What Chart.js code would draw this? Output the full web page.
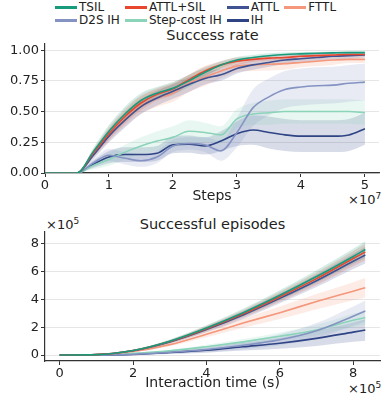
<!DOCTYPE html>
<html>
<head>
<meta charset="utf-8">
<script src="https://cdn.jsdelivr.net/npm/chart.js@4.4.1/dist/chart.umd.min.js"></script>
<style>
  html, body { margin: 0; padding: 0; background: #fff; }
  body { width: 381px; height: 395px; position: relative; overflow: hidden;
         font-family: "DejaVu Sans", sans-serif; color: #222; }
  canvas { position: absolute; left: 0; }
  #top-chart { top: 0; }
  #bottom-chart { top: 208px; }
  .legend { position: absolute; left: 55px; top: 1px; display: grid;
            grid-template-columns: auto auto auto auto; column-gap: 5px;
            font-size: 12px; line-height: 13px; }
  .item { display: flex; align-items: center; white-space: nowrap; }
  .sw { width: 22px; height: 3px; margin-right: 2px; }
  .title { position: absolute; left: 45px; width: 335px; text-align: center;
           font-size: 14.5px; line-height: 17px; }
  .off { position: absolute; font-size: 13px; line-height: 15px; white-space: nowrap; }
  .off sup { font-size: 9px; vertical-align: 5px; line-height: 0; }
</style>
</head>
<body>
<div class="legend" id="legend"></div>
<div class="title" style="top:27px">Success rate</div>
<div class="title" style="top:216px">Successful episodes</div>
<div class="off" style="left:348px; top:192px">×10<sup>7</sup></div>
<div class="off" style="left:46px; top:217px">×10<sup>5</sup></div>
<div class="off" style="left:348px; top:381px">×10<sup>5</sup></div>
<canvas id="top-chart" width="381" height="208"></canvas>
<canvas id="bottom-chart" width="381" height="187"></canvas>

<script>
// ── series ──
const names = ['TSIL', 'ATTL+SIL', 'ATTL', 'FTTL', 'D2S IH', 'Step-cost IH', 'IH'];
const colors = ['#189a7c', '#e8472e', '#3f5291', '#f4977b', '#8593c2', '#8bd3b9', '#2e4485'];

// ── success rate (x in 1e7 steps) ──
const stepsX = [0, 0.5, 0.75, 1, 1.25, 1.5, 1.75, 2, 2.25, 2.5, 2.75, 3, 3.25, 3.5, 3.75, 4, 4.25, 4.5, 4.75, 5];
const tsilRate     = [0, 0, 0.17, 0.34, 0.48, 0.59, 0.65, 0.69, 0.75, 0.82, 0.88, 0.92, 0.94, 0.955, 0.965, 0.97, 0.975, 0.978, 0.98, 0.98];
const attlSilRate  = [0, 0, 0.16, 0.32, 0.46, 0.57, 0.64, 0.685, 0.76, 0.83, 0.88, 0.91, 0.925, 0.935, 0.94, 0.95, 0.955, 0.96, 0.965, 0.965];
const attlRate     = [0, 0, 0.14, 0.30, 0.43, 0.54, 0.61, 0.665, 0.72, 0.77, 0.80, 0.85, 0.88, 0.90, 0.92, 0.93, 0.94, 0.95, 0.955, 0.96];
const fttlRate     = [0, 0, 0.15, 0.31, 0.44, 0.55, 0.61, 0.65, 0.73, 0.78, 0.83, 0.87, 0.88, 0.885, 0.89, 0.90, 0.91, 0.92, 0.925, 0.925];
const d2sRate      = [0, 0, 0.08, 0.145, 0.12, 0.10, 0.13, 0.22, 0.24, 0.23, 0.18, 0.33, 0.53, 0.62, 0.68, 0.70, 0.71, 0.715, 0.73, 0.74];
const stepCostRate = [0, 0, 0.06, 0.11, 0.17, 0.22, 0.26, 0.29, 0.34, 0.33, 0.31, 0.44, 0.48, 0.49, 0.50, 0.50, 0.50, 0.50, 0.50, 0.49];
const ihRate       = [0, 0, 0.07, 0.13, 0.15, 0.15, 0.16, 0.23, 0.235, 0.22, 0.26, 0.32, 0.35, 0.33, 0.31, 0.30, 0.30, 0.30, 0.31, 0.36];

const tsilRateSd     = [0, 0, 0.03, 0.05, 0.06, 0.06, 0.05, 0.05, 0.05, 0.04, 0.03, 0.025, 0.02, 0.02, 0.015, 0.015, 0.01, 0.01, 0.01, 0.01];
const attlSilRateSd  = [0, 0, 0.03, 0.05, 0.06, 0.06, 0.05, 0.05, 0.04, 0.04, 0.03, 0.03, 0.02, 0.02, 0.02, 0.015, 0.015, 0.015, 0.01, 0.01];
const attlRateSd     = [0, 0, 0.03, 0.05, 0.06, 0.06, 0.06, 0.06, 0.06, 0.05, 0.05, 0.04, 0.04, 0.035, 0.03, 0.03, 0.03, 0.025, 0.025, 0.02];
const fttlRateSd     = [0, 0, 0.03, 0.05, 0.06, 0.07, 0.07, 0.07, 0.07, 0.07, 0.06, 0.05, 0.05, 0.05, 0.05, 0.04, 0.04, 0.04, 0.03, 0.03];
const d2sRateSd      = [0, 0, 0.03, 0.05, 0.05, 0.05, 0.05, 0.05, 0.05, 0.06, 0.08, 0.12, 0.15, 0.15, 0.15, 0.15, 0.15, 0.15, 0.15, 0.15];
const stepCostRateSd = [0, 0, 0.03, 0.05, 0.06, 0.07, 0.08, 0.09, 0.09, 0.08, 0.07, 0.08, 0.09, 0.10, 0.10, 0.10, 0.10, 0.10, 0.10, 0.10];
const ihRateSd       = [0, 0, 0.03, 0.05, 0.06, 0.06, 0.06, 0.07, 0.07, 0.07, 0.08, 0.10, 0.12, 0.13, 0.13, 0.13, 0.13, 0.13, 0.13, 0.13];

// ── successful episodes (x and y in 1e5) ──
const timeX = [0, 1, 2, 3, 4, 5, 6, 7, 8, 8.33];
const tsilEp     = [0, 0.03, 0.33, 1.0, 1.95, 3.05, 4.3, 5.65, 7.1, 7.6];
const attlSilEp  = [0, 0.03, 0.32, 0.97, 1.9, 2.97, 4.2, 5.5, 6.95, 7.42];
const attlEp     = [0, 0.03, 0.31, 0.94, 1.84, 2.88, 4.08, 5.35, 6.75, 7.2];
const fttlEp     = [0, 0.03, 0.25, 0.75, 1.5, 2.3, 3.05, 3.85, 4.6, 4.85];
const d2sEp      = [0, 0.01, 0.06, 0.2, 0.4, 0.7, 1.1, 1.75, 2.8, 3.17];
const stepCostEp = [0, 0.02, 0.12, 0.3, 0.6, 0.95, 1.35, 1.8, 2.5, 2.7];
const ihEp       = [0, 0.01, 0.05, 0.18, 0.35, 0.6, 0.85, 1.2, 1.65, 1.8];

const tsilEpSd     = [0, 0.01, 0.05, 0.12, 0.2, 0.28, 0.36, 0.45, 0.55, 0.6];
const attlSilEpSd  = [0, 0.01, 0.05, 0.12, 0.2, 0.28, 0.36, 0.45, 0.55, 0.6];
const attlEpSd     = [0, 0.01, 0.05, 0.12, 0.2, 0.28, 0.36, 0.45, 0.55, 0.6];
const fttlEpSd     = [0, 0.01, 0.05, 0.12, 0.22, 0.33, 0.45, 0.55, 0.65, 0.7];
const d2sEpSd      = [0, 0.01, 0.04, 0.1, 0.18, 0.28, 0.4, 0.55, 0.7, 0.75];
const stepCostEpSd = [0, 0.01, 0.04, 0.08, 0.14, 0.2, 0.28, 0.38, 0.48, 0.5];
const ihEpSd       = [0, 0.01, 0.04, 0.1, 0.18, 0.28, 0.4, 0.55, 0.7, 0.78];

// ── ticks ──
const rateXTicks = [0, 1, 2, 3, 4, 5];
const rateYTicks = [0, 0.25, 0.5, 0.75, 1.0];
const epXTicks = [0, 2, 4, 6, 8];
const epYTicks = [0, 2, 4, 6, 8];

// legend
document.getElementById('legend').innerHTML = names.map((n, i) =>
  `<div class="item"><span class="sw" style="background:${colors[i]}"></span>${n}</div>`).join('');

function rgba(hex, a) {
  const v = parseInt(hex.slice(1), 16);
  return `rgba(${v >> 16},${(v >> 8) & 255},${v & 255},${a})`;
}

function buildDatasets(xs, means, sds) {
  const lines = means.map((m, i) => ({
    label: names[i],
    data: xs.map((x, j) => ({ x, y: m[j] })),
    borderColor: colors[i],
    borderWidth: 1.6,
    pointRadius: 0,
    fill: false,
    cubicInterpolationMode: 'monotone',
  }));
  const bands = [];
  means.forEach((m, i) => {
    bands.push({
      data: xs.map((x, j) => ({ x, y: m[j] - sds[i][j] })),
      borderWidth: 0, pointRadius: 0, fill: false, cubicInterpolationMode: 'monotone',
    });
    bands.push({
      data: xs.map((x, j) => ({ x, y: m[j] + sds[i][j] })),
      borderWidth: 0, pointRadius: 0, fill: '-1', cubicInterpolationMode: 'monotone',
      backgroundColor: rgba(colors[i], 0.19),
    });
  });
  return lines.concat(bands);
}

const tickFont = { family: 'DejaVu Sans', size: 13 };
const tickColor = '#222';

function makeChart(id, opts) {
  return new Chart(document.getElementById(id), {
    type: 'line',
    data: { datasets: buildDatasets(opts.xs, opts.means, opts.sds) },
    options: {
      responsive: false,
      animation: false,
      events: [],
      layout: { padding: { top: opts.padTop, right: opts.padRight, left: 0, bottom: 0 } },
      plugins: { legend: { display: false }, tooltip: { enabled: false } },
      scales: {
        x: {
          type: 'linear',
          min: opts.xMin, max: opts.xMax,
          afterFit: s => { s.height = opts.xHeight; },
          afterBuildTicks: s => { s.ticks = opts.xTicks.map(v => ({ value: v })); },
          grid: { drawOnChartArea: false, tickLength: 4, tickColor: '#333', tickWidth: 1 },
          border: { color: '#333', width: 1.2 },
          ticks: { font: tickFont, color: tickColor, padding: 1, maxRotation: 0,
                   callback: v => String(v) },
          title: { display: true, text: opts.xTitle, color: tickColor,
                   font: { family: 'DejaVu Sans', size: 14 }, padding: { top: 0, bottom: opts.xTitlePad } },
        },
        y: {
          min: opts.yMin, max: opts.yMax,
          afterFit: s => { s.width = 45; },
          afterBuildTicks: s => { s.ticks = opts.yTicks.map(v => ({ value: v })); },
          grid: { color: '#e6e6e6', lineWidth: 1, tickLength: 4, tickColor: '#333', tickWidth: 1 },
          border: { color: '#333', width: 1.2 },
          ticks: { font: tickFont, color: tickColor, padding: 2, callback: opts.yFmt },
        },
      },
    },
  });
}

makeChart('top-chart', {
  xs: stepsX,
  means: [tsilRate, attlSilRate, attlRate, fttlRate, d2sRate, stepCostRate, ihRate],
  sds: [tsilRateSd, attlSilRateSd, attlRateSd, fttlRateSd, d2sRateSd, stepCostRateSd, ihRateSd],
  xMin: 0, xMax: 5.22, yMin: 0, yMax: 1.05,
  xTicks: rateXTicks, yTicks: rateYTicks,
  padTop: 44, padRight: 2, xHeight: 35, xTitle: 'Steps', xTitlePad: 3,
  yFmt: v => v.toFixed(2),
});

makeChart('bottom-chart', {
  xs: timeX,
  means: [tsilEp, attlSilEp, attlEp, fttlEp, d2sEp, stepCostEp, ihEp],
  sds: [tsilEpSd, attlSilEpSd, attlEpSd, fttlEpSd, d2sEpSd, stepCostEpSd, ihEpSd],
  xMin: -0.4, xMax: 8.73, yMin: -0.43, yMax: 8.86,
  xTicks: epXTicks, yTicks: epYTicks,
  padTop: 24, padRight: 1, xHeight: 34, xTitle: 'Interaction time (s)', xTitlePad: 3,
  yFmt: v => String(v),
});
</script>
</body>
</html>
